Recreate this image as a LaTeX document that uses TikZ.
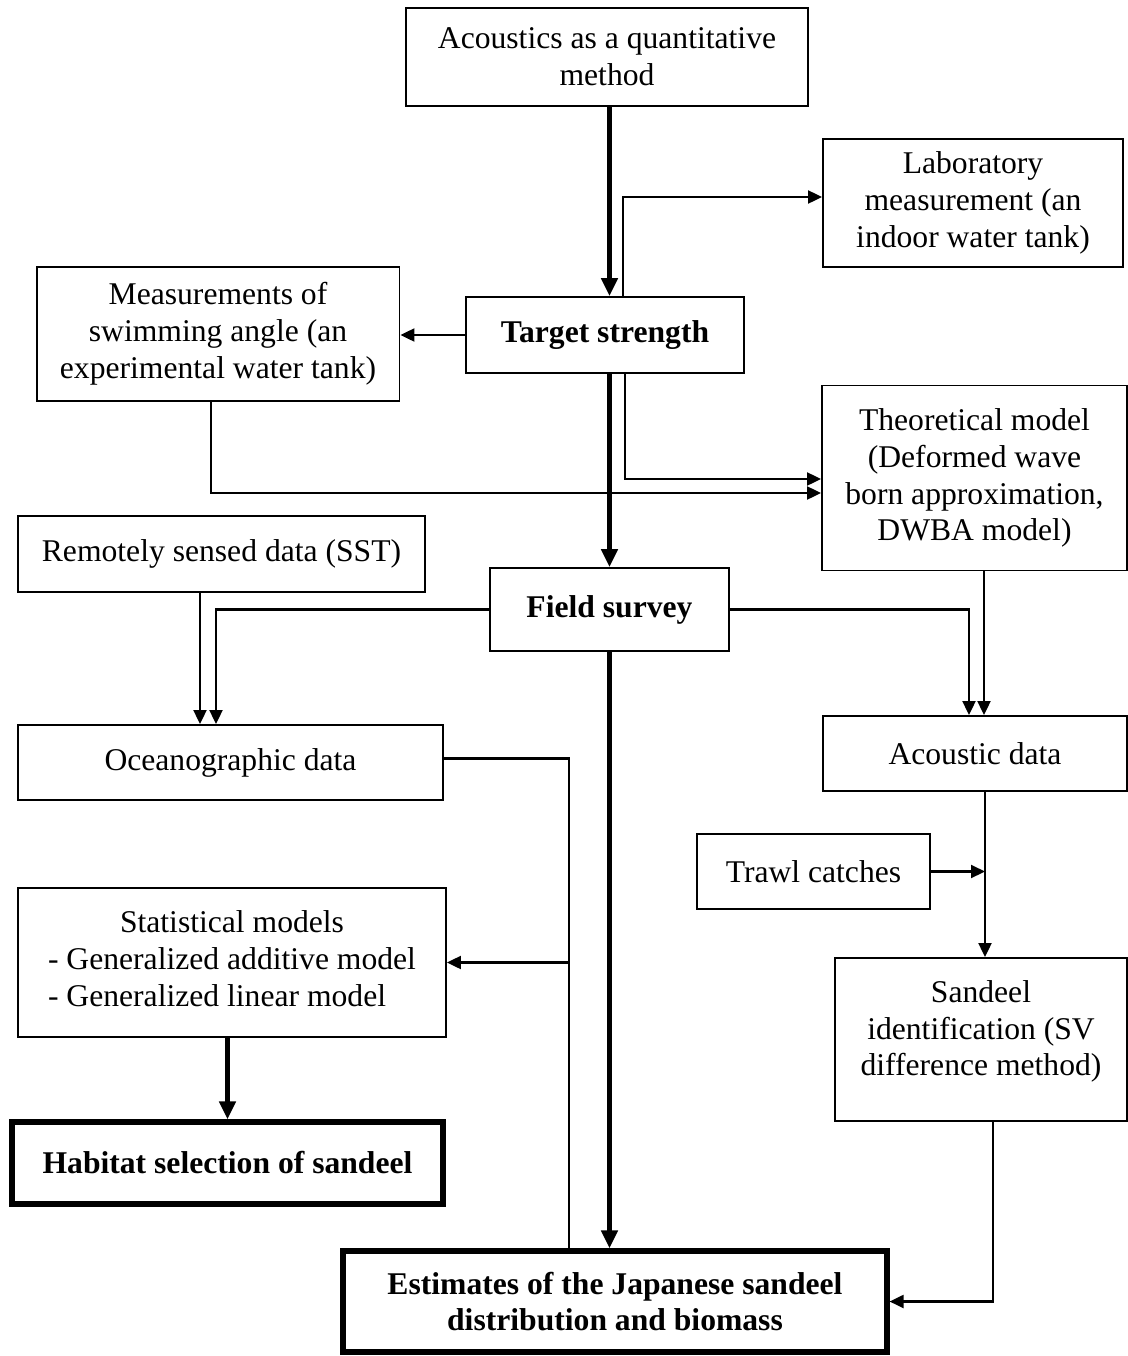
\documentclass[tikz,border=0pt]{standalone}
\usepackage{fontspec}
\setmainfont{Liberation Serif}
\usetikzlibrary{positioning,arrows.meta}

\begin{document}
\begin{tikzpicture}[x=0.02cm,y=-0.02cm,
    box/.style={draw,line width=1.1pt,inner sep=0pt,align=center,
        font=\fontsize{18}{21}\selectfont},
    bigbox/.style={box,line width=3pt,font=\fontsize{18}{21}\selectfont\bfseries},
    thin/.style={line width=1.2pt},
    thinarrow/.style={thin,-{Triangle[length=2.8mm,width=2.6mm]}},
    thickarrow/.style={line width=3.4pt,-{Triangle[length=3.6mm,width=3.2mm]}}]
\useasboundingbox (0,0) rectangle (1128,1356);
    % top row
    \node[box,minimum width=8.04cm,minimum height=1.96cm] (acou) at (607,57)
        {Acoustics as a quantitative\\method};
    \node[box,minimum width=6cm,minimum height=2.56cm] (lab) at (973,203)
        {Laboratory\\measurement (an\\indoor water tank)};
    \node[box,minimum width=7.26cm,minimum height=2.68cm] (meas) at (218,334)
        {Measurements of\\swimming angle (an\\experimental water tank)};
    \node[box,minimum width=5.56cm,minimum height=1.52cm,font=\fontsize{18}{21}\selectfont\bfseries]
        (ts) at (605,335) {Target strength};
    \node[box,minimum width=6.1cm,minimum height=3.7cm] (theo) at (974.5,478)
        {Theoretical model\\(Deformed wave\\born approximation,\\DWBA model)};
    % survey
    \node[box,minimum width=8.14cm,minimum height=1.52cm] (rs) at (221.5,554)
        {Remotely sensed data (SST)};
    \node[box,minimum width=4.78cm,minimum height=1.66cm,font=\fontsize{18}{21}\selectfont\bfseries]
        (fs) at (609.5,609.5) {Field survey};
    \node[box,minimum width=8.5cm,minimum height=1.5cm] (ocean) at (230.5,762.5)
        {Oceanographic data};
    \node[box,minimum width=6.08cm,minimum height=1.5cm] (acdat) at (975,753.5)
        {Acoustic data};
    \node[box,minimum width=4.66cm,minimum height=1.5cm] (trawl) at (813.5,871.5)
        {Trawl catches};
    \node[box,minimum width=5.84cm,minimum height=3.26cm] (sand) at (981,1039.5)
        {Sandeel\\identification (SV\\difference method)\\[-8pt]\mbox{}};
    \node[box,minimum width=8.56cm,minimum height=2.98cm] (stat) at (232,962.5)
        {\begin{tabular}{@{}l@{}}\multicolumn{1}{@{}c@{}}{Statistical models}\\
        - Generalized additive model\\- Generalized linear model\end{tabular}};
    % results
    \node[bigbox,minimum width=8.62cm,minimum height=1.64cm] (hab) at (227.5,1163)
        {Habitat selection of sandeel};
    \node[bigbox,minimum width=10.88cm,minimum height=2.02cm] (est) at (615,1301.5)
        {Estimates of the Japanese sandeel\\distribution and biomass};

    \coordinate (ocspine) at ([xshift=-0.92cm]est.north);
    \coordinate (acspine) at ([xshift=0.2cm]acdat.south);

    % main line
    \draw[thickarrow] (acou.south -| fs.north) -- (ts.north -| fs.north);
    \draw[thickarrow] (ts.south -| fs.north) -- (fs.north);
    \draw[thickarrow] (fs.south) -- (fs.south |- est.north);
    \draw[thickarrow] (stat.south -| hab.north) -- (hab.north);
    % target strength
    \draw[thinarrow] ([xshift=0.36cm]ts.north) |- ([yshift=0.12cm]lab.west);
    \draw[thinarrow] (ts.west) -- (ts.west -| meas.east);
    \draw[thinarrow] ([xshift=0.4cm]ts.south) |- ([yshift=-0.02cm]theo.west);
    \draw[thinarrow] ([xshift=-0.14cm]meas.south) |- ([yshift=-0.3cm]theo.west);
    % field survey
    \draw[thinarrow] (fs.west) -| ([xshift=-0.29cm]ocean.north);
    \draw[thinarrow] ([xshift=-0.43cm]rs.south) -- ([xshift=-0.43cm]rs.south |- ocean.north);
    \draw[thinarrow] (fs.east) -| ([xshift=-0.12cm]acdat.north);
    \draw[thinarrow] ([xshift=0.19cm]theo.south) -- ([xshift=0.19cm]theo.south |- acdat.north);
    % oceanographic data
    \draw[thin] ([yshift=0.08cm]ocean.east) -| (ocspine);
    \draw[thinarrow] (ocspine |- stat.east) -- (stat.east);
    % acoustic data
    \draw[thinarrow] (acspine) -- (acspine |- sand.north);
    \draw[thinarrow] (trawl.east) -- (trawl.east -| acspine);
    \draw[thinarrow] ([xshift=0.24cm]sand.south) |- (est.east);
\end{tikzpicture}
\end{document}
